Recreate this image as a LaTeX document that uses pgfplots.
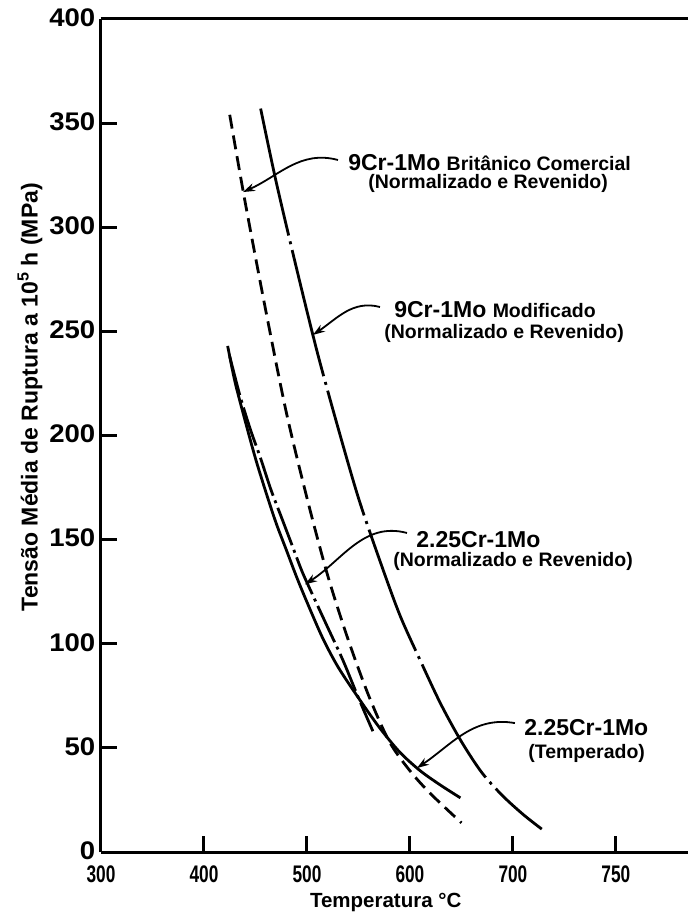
\documentclass[border=0pt]{standalone}
\usepackage{fontspec}
\setmainfont{Liberation Sans}
\newfontfamily\condfont[FakeStretch=0.72]{Liberation Sans}
\newfontfamily\widefont[FakeStretch=1.08]{Liberation Sans}
\usepackage{pgfplots}
\pgfplotsset{compat=1.18}
\usetikzlibrary{arrows.meta}

\newcommand{\alloyfont}{\fontsize{23pt}{25pt}\selectfont\bfseries}
\newcommand{\notefont}{\fontsize{19.5pt}{21pt}\selectfont\bfseries}

\begin{document}
\begin{tikzpicture}
\useasboundingbox (-101pt,-61pt) rectangle (587pt,852pt);
\begin{axis}[
  at={(0pt,0pt)}, anchor=south west,
  width=587pt, height=833pt, scale only axis,
  xmin=300, xmax=870, ymin=0, ymax=400,
  axis x line=box, axis y line=left,
  axis line style={line width=3pt, -},
  xtick={300,400,500,600,700,800},
  xticklabels={300,400,500,600,700,750},
  ytick={0,50,...,400},
  xtick pos=bottom, ytick pos=left,
  tick align=inside,
  major tick length=16pt,
  every tick/.style={line width=3pt, black},
  /pgf/number format/assume math mode=true,
  yticklabel style={font=\widefont\fontsize{25.5pt}{25.5pt}\selectfont\bfseries, xshift=-1pt, yshift=1.5pt},
  xticklabel style={font=\condfont\fontsize{24pt}{24pt}\selectfont\bfseries, yshift=-9pt},
  xlabel={Temperatura °C},
  ylabel={Tensão Média de Ruptura a 10\textsuperscript{5} h (MPa)},
  xlabel style={font=\fontsize{20.5pt}{21pt}\selectfont\bfseries,
    at={(axis description cs:0.485,0)}, anchor=center, yshift=-50pt},
  ylabel style={font=\fontsize{23pt}{23pt}\selectfont\bfseries,
    at={(axis description cs:-0.121,0.546)}, anchor=center},
  line width=2.8pt,
]
% 9Cr-1Mo Britanico comercial (N&R)
\addplot[black, smooth, dash pattern=on 14pt off 7pt] coordinates {
  (425,354) (440,312) (460,260) (480,211) (500,170) (520,133) (540,102)
  (560,75) (580,53) (600,39) (620,28) (650,14)};
% 9Cr-1Mo modificado (N&R)
\addplot[black, smooth, dash pattern=on 130pt off 6pt on 3pt off 6pt] coordinates {
  (455,357) (470,322) (490,280) (510,240) (530,204) (550,170) (570,141)
  (590,114) (610,92) (630,71) (650,53) (670,38) (690,27) (710,18) (728,11)};
% 2.25Cr-1Mo (N&R)
\addplot[black, smooth, dash pattern=on 40pt off 5pt on 3pt off 5pt] coordinates {
  (425,238) (435,219) (445,203) (455,189) (465,174) (475,161) (485,148)
  (495,135) (505,124) (520,108) (535,92) (550,74) (564,58)};
% 2.25Cr-1Mo (temperado)
\addplot[black, smooth] coordinates {
  (423,243) (430,226) (440,207) (450,189) (460,173) (470,158) (480,145)
  (490,132) (500,120) (515,103) (530,89) (550,74) (570,60) (590,48)
  (610,39) (630,32) (649,26)};

% labels
\node[anchor=west, inner sep=0pt] at (axis cs:538.8,330.9) {\alloyfont 9Cr-1Mo \notefont Britânico Comercial};
\node[anchor=west, inner sep=0pt] at (axis cs:558.3,321.2) {\notefont (Normalizado e Revenido)};
\node[anchor=west, inner sep=0pt] at (axis cs:583.5,260.3) {\alloyfont 9Cr-1Mo \notefont Modificado};
\node[anchor=west, inner sep=0pt] at (axis cs:573.8,249.2) {\notefont (Normalizado e Revenido)};
\node[anchor=west, inner sep=0pt] at (axis cs:604.9,150.1) {\alloyfont 2.25Cr-1Mo};
\node[anchor=west, inner sep=0pt] at (axis cs:582.5,139.5) {\notefont (Normalizado e Revenido)};
\node[anchor=west, inner sep=0pt] at (axis cs:709.7,59.8) {\alloyfont 2.25Cr-1Mo};
\node[anchor=west, inner sep=0pt] at (axis cs:713.6,47.5) {\notefont (Temperado)};

% pointers
\begin{scope}[line width=1.8pt, -{Stealth[length=12pt,width=8pt]}]
\draw (axis cs:530.1,332.3) to[out=165,in=24] (axis cs:437.9,316.9);
\draw (axis cs:570.9,261.7) to[out=165,in=34] (axis cs:505.8,248.3);
\draw (axis cs:597.1,153.2) to[out=165,in=33] (axis cs:498.1,128.5);
\draw (axis cs:701.9,61.9) to[out=170,in=34] (axis cs:606.8,40.3);
\end{scope}
\end{axis}
\end{tikzpicture}
\end{document}
